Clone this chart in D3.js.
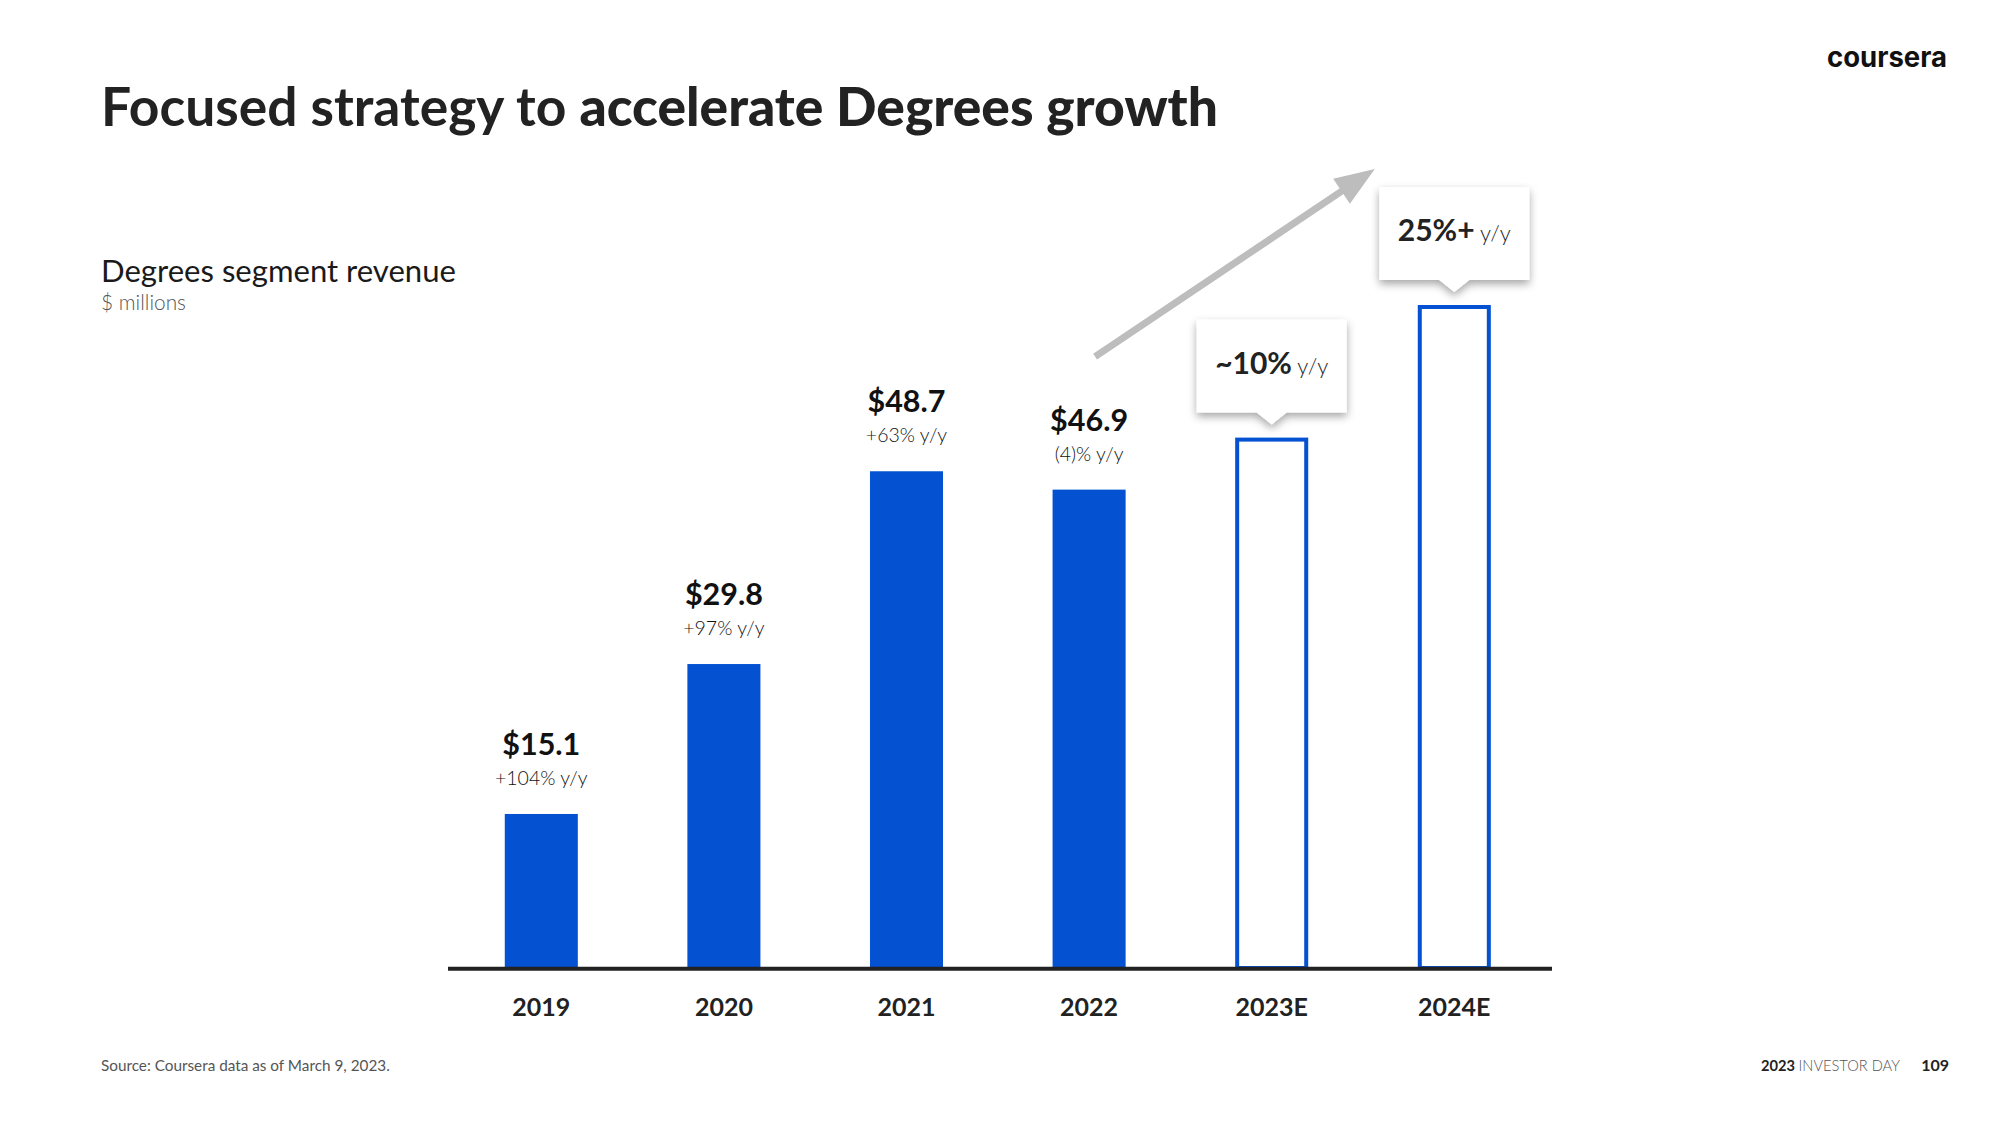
<!DOCTYPE html>
<html><head><meta charset="utf-8">
<script src="https://cdn.jsdelivr.net/npm/d3@7"></script>
<style>
html,body{margin:0;padding:0;background:#fff;}
svg{display:block;font-family:"Lato","Noto Sans",sans-serif;}
</style></head>
<body>
<svg id="c" width="2000" height="1125"></svg>
<script>
const categories = ["2019","2020","2021","2022","2023E","2024E"];
const revenue = [15.1, 29.8, 48.7, 46.9, 52, 65];
const valueLabels = ["$15.1","$29.8","$48.7","$46.9","",""];
const growthLabels = ["+104% y/y","+97% y/y","+63% y/y","(4)% y/y","",""];
const isEstimate = [false,false,false,false,true,true];
const calloutBold = ["","","","","~10%","25%+"];
const calloutRest = ["","","","","y/y","y/y"];

const BLUE = "#0451d1";
const svg = d3.select("#c");

const defs = svg.append("defs");
const f = defs.append("filter").attr("id","sh").attr("x","-30%").attr("y","-30%").attr("width","160%").attr("height","170%");
f.append("feDropShadow").attr("dx",0).attr("dy",4).attr("stdDeviation",4).attr("flood-color","#000").attr("flood-opacity",0.35);

function fit(sel, w){
  const n = sel.node();
  const fs = parseFloat(sel.attr("font-size"));
  const m = n.getComputedTextLength();
  sel.attr("font-size", (fs*w/m).toFixed(2));
}

// Title
const title = svg.append("text").attr("x",101).attr("y",126).attr("font-size",54).attr("fill","#222");
title.append("tspan").attr("font-weight",700).text("Focused strategy to ");
title.append("tspan").attr("font-weight",900).text("accelerate Degrees growth");
fit(title, 1117);

// Logo
svg.append("text").attr("x",1947).attr("y",67).attr("text-anchor","end")
  .attr("font-family","Inter, sans-serif").attr("font-weight",700).attr("font-size",28)
  .attr("textLength",120).attr("lengthAdjust","spacingAndGlyphs").attr("fill","#111").text("coursera");

// Subtitle
const st = svg.append("text").attr("x",101).attr("y",282).attr("font-size",30).attr("fill","#1a1a1a").text("Degrees segment revenue");
fit(st, 355);
const st2 = svg.append("text").attr("x",101).attr("y",310).attr("font-size",20).attr("fill","#555").attr("font-weight",300).text("$ millions");
fit(st2, 85);

// Scales
const x = d3.scaleBand().domain(categories).range([450, 1545.6]).paddingInner(0.6).paddingOuter(0.3);
const y = d3.scaleLinear().domain([0, 70]).range([968, 968 - 70*10.2]);
const bw = x.bandwidth();
const data = categories.map((c,i)=>({c, v:revenue[i], est:isEstimate[i], vl:valueLabels[i], gl:growthLabels[i], cb:calloutBold[i], cr:calloutRest[i]}));

// Bars
const g = svg.append("g");
g.selectAll("rect.bar").data(data).join("rect").attr("class","bar")
  .attr("x", d => d.est ? x(d.c)+2 : x(d.c))
  .attr("width", d => d.est ? bw-4 : bw)
  .attr("y", d => d.est ? y(d.v)+2 : y(d.v))
  .attr("height", d => d.est ? y(0)-y(d.v)-2 : y(0)-y(d.v))
  .attr("fill", d => d.est ? "#fff" : BLUE)
  .attr("stroke", d => d.est ? BLUE : "none")
  .attr("stroke-width", 4);

// Baseline
svg.append("line").attr("x1",448).attr("x2",1552).attr("y1",y(0)+0.7).attr("y2",y(0)+0.7).attr("stroke","#222").attr("stroke-width",4);

// Axis
const ax = svg.append("g").attr("transform",`translate(0,${y(0)})`)
  .call(d3.axisBottom(x).tickSize(0).tickPadding(30));
ax.select(".domain").remove();
ax.selectAll("text").attr("font-size",25).attr("font-weight",700).attr("fill","#222").attr("font-family","Lato, sans-serif");

// Value labels
const actual = data.filter(d => !d.est);
g.selectAll("text.val").data(actual).join("text").attr("class","val")
  .attr("x", d => x(d.c)+bw/2).attr("y", d => y(d.v)-59)
  .attr("text-anchor","middle").attr("font-size",30.5).attr("font-weight",700).attr("fill","#111").text(d => d.vl);
g.selectAll("text.gr").data(actual).join("text").attr("class","gr")
  .attr("x", d => x(d.c)+bw/2).attr("y", d => y(d.v)-29)
  .attr("text-anchor","middle").attr("font-size",19.5).attr("font-weight",300).attr("fill","#111").text(d => d.gl);

// Callouts
const est = data.filter(d => d.est);
const BW = 150, BH = 93, TH = 12, TW = 15;
const co = g.selectAll("g.co").data(est).join("g").attr("class","co")
  .attr("transform", d => `translate(${x(d.c)+bw/2},${y(d.v)-13})`);
co.append("path").attr("filter","url(#sh)").attr("fill","#fff")
  .attr("d", `M${-BW/2},${-TH-BH} H${BW/2} V${-TH} H${TW} L0,0 L${-TW},${-TH} H${-BW/2} Z`);
const ct = co.append("text").attr("text-anchor","middle").attr("y", -TH-BH+54);
ct.append("tspan").attr("font-size",30).attr("font-weight",700).attr("fill","#222").text(d => d.cb);
ct.append("tspan").attr("font-size",22).attr("font-weight",300).attr("fill","#222").text(d => " " + d.cr);

// Trend arrow (annotation, anchored to scale positions)
const ax0 = x("2022")+bw/2+6, ay0 = y(revenue[3]) - 133;
const ax1 = x("2024E") - 43, ay1 = y(revenue[5]) - 136;
const ang = Math.atan2(ay1-ay0, ax1-ax0);
const HL = 40, HW = 15;
const bx = ax1 - HL*Math.cos(ang), by = ay1 - HL*Math.sin(ang);
svg.append("line").attr("x1",ax0).attr("y1",ay0).attr("x2",bx+2*Math.cos(ang)).attr("y2",by+2*Math.sin(ang))
  .attr("stroke","#bdbdbd").attr("stroke-width",7);
svg.append("path").attr("fill","#bdbdbd")
  .attr("d", `M${ax1},${ay1} L${bx - HW*Math.sin(ang)},${by + HW*Math.cos(ang)} L${bx + HW*Math.sin(ang)},${by - HW*Math.cos(ang)} Z`);

// Footer
const src = svg.append("text").attr("x",101).attr("y",1071).attr("font-size",17).attr("fill","#555").text("Source: Coursera data as of March 9, 2023.");
fit(src, 289);
const ft = svg.append("text").attr("x",1761).attr("y",1071).attr("font-size",16);
ft.append("tspan").attr("font-weight",700).attr("fill","#222").text("2023 ");
ft.append("tspan").attr("font-weight",300).attr("fill","#555").text("INVESTOR DAY");
fit(ft, 139);
svg.append("text").attr("x",1949).attr("y",1071).attr("text-anchor","end").attr("font-size",16).attr("font-weight",700).attr("fill","#222").text("109");
</script>
</body></html>
